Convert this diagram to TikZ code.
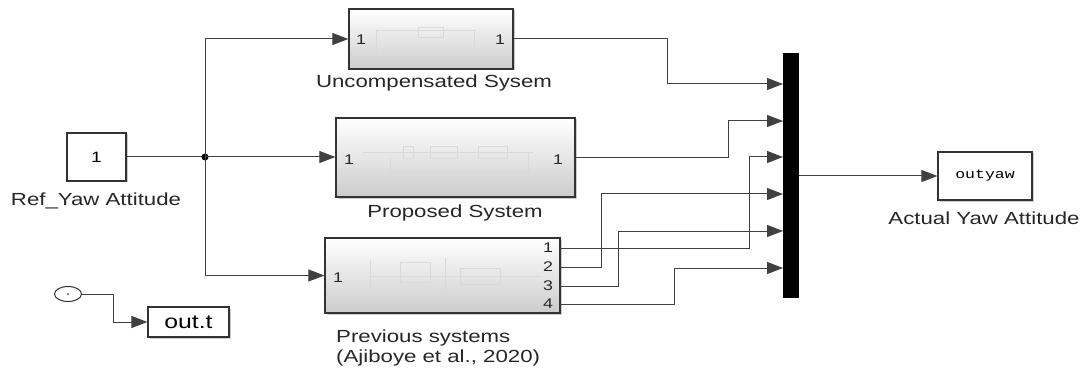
\documentclass[tikz,border=0pt]{standalone}
\usepackage{fontspec}
\setmainfont{Liberation Sans}
\newfontfamily\monof{Liberation Mono}
\usetikzlibrary{arrows.meta,shadows,calc,shapes.geometric}
\newcommand{\stretchx}[1]{\scalebox{1.27}[1]{#1}}
\begin{document}
\begin{tikzpicture}[x=1pt,y=-1pt,
  blk/.style={draw=black!80, line width=1.3pt, top color=white, bottom color=black!20,
    drop shadow={shadow xshift=1.5pt,shadow yshift=-1.5pt,opacity=0.4}, inner sep=0pt},
  plain/.style={draw=black!80, line width=1.2pt, fill=white,
    drop shadow={shadow xshift=1.5pt,shadow yshift=-1.5pt,opacity=0.4}, inner sep=0pt},
  lbl/.style={font=\fontsize{17.5}{20}\selectfont, text=black!85, inner sep=0pt},
  port/.style={font=\fontsize{14}{15}\selectfont, text=black!85, inner sep=0pt},
  wire/.style={draw=black!75, line width=1pt},
  arr/.style={wire, -{Triangle[length=16pt,width=12pt]}},
  faint/.style={draw=black!15, line width=0.6pt}]
\useasboundingbox (0,0) rectangle (1086,374);

% blocks
\node[plain, minimum width=59pt, minimum height=48pt] (ref) at (96.5,157) {\stretchx{\fontsize{15}{16}\selectfont 1}};
\node[blk, minimum width=164pt, minimum height=60pt] (unc) at (431,39) {};
\node[blk, minimum width=239pt, minimum height=79pt] (prop) at (455.5,157.5) {};
\node[blk, minimum width=235pt, minimum height=75pt] (prev) at (442.5,275.5) {};
\node[fill=black, minimum width=16pt, minimum height=245pt, inner sep=0pt] (mux) at (791,175.5) {};
\node[plain, minimum width=94pt, minimum height=48pt] (oy) at (985,176) {\stretchx{\monof\fontsize{13}{14}\selectfont outyaw}};
\node[ellipse, draw=black!80, line width=1pt, fill=white, minimum width=27pt, minimum height=15pt, inner sep=0pt] (clk) at (68,294) {};
\fill[black!70] (clk.center) circle (1pt);
\node[plain, minimum width=81pt, minimum height=30pt] (outt) at (188.5,322) {\stretchx{\fontsize{19.5}{20}\selectfont out.t}};

% faint internals
\draw[faint] (376,30) rectangle (474,55);
\draw[faint] (418,27) rectangle (443,37);
\draw[faint] (363,152) -- (533,152);
\draw[faint] (403,146) rectangle (413,158);
\draw[faint] (430,146) rectangle (457,158);
\draw[faint] (478,146) rectangle (507,158);
\draw[faint] (390,158) -- (390,172) -- (528,172) -- (528,152);
\draw[faint] (370,260) -- (370,290);
\draw[faint] (400,262) rectangle (430,282);
\draw[faint] (445,258) -- (445,295);
\draw[faint] (460,268) rectangle (500,284);
\draw[faint] (370,276) -- (540,276);

% port labels
\node[port] at (361,40) {\stretchx{1}};
\node[port] at (500,40) {\stretchx{1}};
\node[port] at (349,160) {\stretchx{1}};
\node[port] at (558,160) {\stretchx{1}};
\node[port] at (338,278) {\stretchx{1}};
\node[port] at (548,248) {\stretchx{1}};
\node[port] at (548,267) {\stretchx{2}};
\node[port] at (548,286) {\stretchx{3}};
\node[port] at (548,304) {\stretchx{4}};

% coordinates
\coordinate (br) at (205,157);
\coordinate (m1) at (783,84);
\coordinate (m2) at (783,121);
\coordinate (m3) at (783,157);
\coordinate (m4) at (783,194);
\coordinate (m5) at (783,231);
\coordinate (m6) at (783,268);
\coordinate (q1) at (560,248);
\coordinate (q2) at (560,267);
\coordinate (q3) at (560,286);
\coordinate (q4) at (560,304);

% wires
\draw[wire] (ref.east) -- (br);
\fill[black] (br) circle (3.5pt);
\draw[arr] (br) |- (unc.west);
\draw[arr] (br) -- (br -| prop.west);
\draw[arr] (br) |- (prev.west);
\draw[arr] (unc.east) -- ++(154,0) |- (m1);
\draw[arr] (prop.east) -- ++(153,0) |- (m2);
\draw[arr] (q1) -- ++(189,0) |- (m3);
\draw[arr] (q2) -- ++(41,0) |- (m4);
\draw[arr] (q3) -- ++(58,0) |- (m5);
\draw[arr] (q4) -- ++(114,0) |- (m6);
\draw[arr] (mux.east |- oy.west) -- (oy.west);
\draw[arr] (clk.east) -- ++(31,0) |- (outt.west);

% labels
\node[lbl] (l1) at (96,201) {\stretchx{Ref\_Yaw Attitude}};
\node[lbl] (l2) at (434,83) {\stretchx{Uncompensated Sysem}};
\node[lbl] (l3) at (455,213) {\stretchx{Proposed System}};
\node[lbl, anchor=west] (l4) at (336,338) {\stretchx{Previous systems}};
\node[lbl, anchor=west] (l5) at (336,358) {\stretchx{(Ajiboye et al., 2020)}};
\node[lbl] (l6) at (984,218) {\stretchx{Actual Yaw Attitude}};
\end{tikzpicture}
\end{document}
